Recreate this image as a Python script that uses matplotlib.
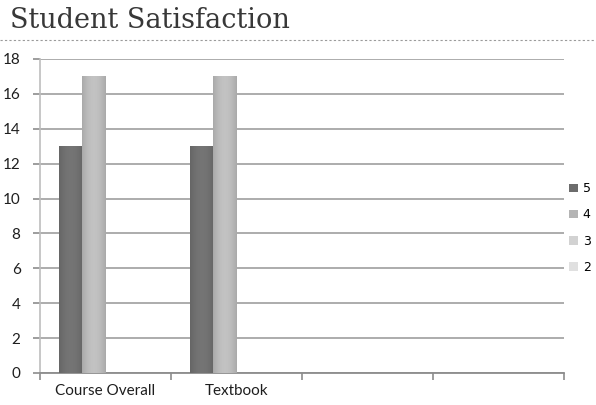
import numpy as np
import matplotlib.pyplot as plt
from matplotlib.patches import Rectangle
from matplotlib.lines import Line2D

# data
categories = ["Course Overall", "Textbook", "", ""]
series_names = ["5", "4", "3", "2"]
series_values = [
    [13, 13, 0, 0],
    [17, 17, 0, 0],
    [0, 0, 0, 0],
    [0, 0, 0, 0],
]
series_colors = ["#6c6c6c", "#b4b4b4", "#d2d2d2", "#e0e0e0"]
y_ticks = [0, 2, 4, 6, 8, 10, 12, 14, 16, 18]


def shade(hex_color, f):
    c = np.array([int(hex_color[i:i + 2], 16) for i in (1, 3, 5)]) / 255.0
    return np.clip(c * f, 0, 1)


W, H = 596, 405
fig = plt.figure(figsize=(W / 100, H / 100), dpi=100)
ax = fig.add_axes([40 / W, 32 / H, 524 / W, 314 / H])

n = len(series_names)
bar_w = 0.178
x = np.arange(len(categories))

for i, (name, vals, col) in enumerate(zip(series_names, series_values, series_colors)):
    offs = (i - (n - 1) / 2) * bar_w
    bars = ax.bar(x + offs, vals, width=bar_w, color=col, zorder=3, linewidth=0)
    # soft cylinder-like shading across each bar
    for b in bars:
        h = b.get_height()
        if h <= 0:
            continue
        x0 = b.get_x()
        t = np.linspace(0, 1, 60)
        prof = 0.88 + 0.2 * np.sin(np.pi * (t * 0.8 + 0.1))
        img = np.array([shade(col, p) for p in prof])[None, :, :]
        ax.imshow(img, extent=(x0, x0 + bar_w, 0, h), aspect="auto", zorder=4,
                  interpolation="bilinear")

ax.set_xlim(-0.5, len(categories) - 0.5)
ax.set_ylim(0, 18)
ax.set_yticks(y_ticks)
ax.yaxis.grid(True, color="#a6a6a6", linewidth=1.3, zorder=0)
ax.set_axisbelow(True)

# boundaries as major ticks, names as minor ticks
ax.set_xticks(np.arange(len(categories) + 1) - 0.5)
ax.set_xticklabels([])
ax.set_xticks(x, minor=True)
ax.set_xticklabels(categories, minor=True, fontsize=11, family="Lato", color="#1e1e1e")
ax.tick_params(axis="x", which="minor", length=0, pad=8)
ax.tick_params(axis="x", which="major", length=5, color="#8c8c8c", width=1.2)
ax.tick_params(axis="y", length=5, color="#8c8c8c", width=1.2, labelsize=11, pad=9)
for lab in ax.get_yticklabels():
    lab.set_family("Lato")
    lab.set_color("#1e1e1e")

for s in ["top", "right"]:
    ax.spines[s].set_visible(False)
ax.spines["left"].set_color("#bdbdbd")
ax.spines["left"].set_linewidth(1.2)
ax.spines["bottom"].set_color("#8c8c8c")
ax.spines["bottom"].set_linewidth(1.3)

# title and dotted rule
fig.text(10 / W, 1 - 28 / H, "Student Satisfaction", family="DejaVu Serif",
         fontsize=19.5, color="#383838", ha="left", va="baseline")
fig.add_artist(Line2D([0, 1], [1 - 40 / H, 1 - 40 / H], transform=fig.transFigure,
                      color="#9a9a9a", linewidth=0.8, linestyle=(0, (2, 2))))

# legend at the right edge
handles = [Rectangle((0, 0), 1, 1, facecolor=c, edgecolor="none") for c in series_colors]
fig.legend(handles, series_names, loc="center left", bbox_to_anchor=(569 / W, 1 - 228 / H),
           frameon=False, fontsize=9, handlelength=0.7, handleheight=0.7,
           handletextpad=0.4, labelspacing=1.05, borderpad=0, borderaxespad=0)

fig.savefig("out.png", dpi=100)
